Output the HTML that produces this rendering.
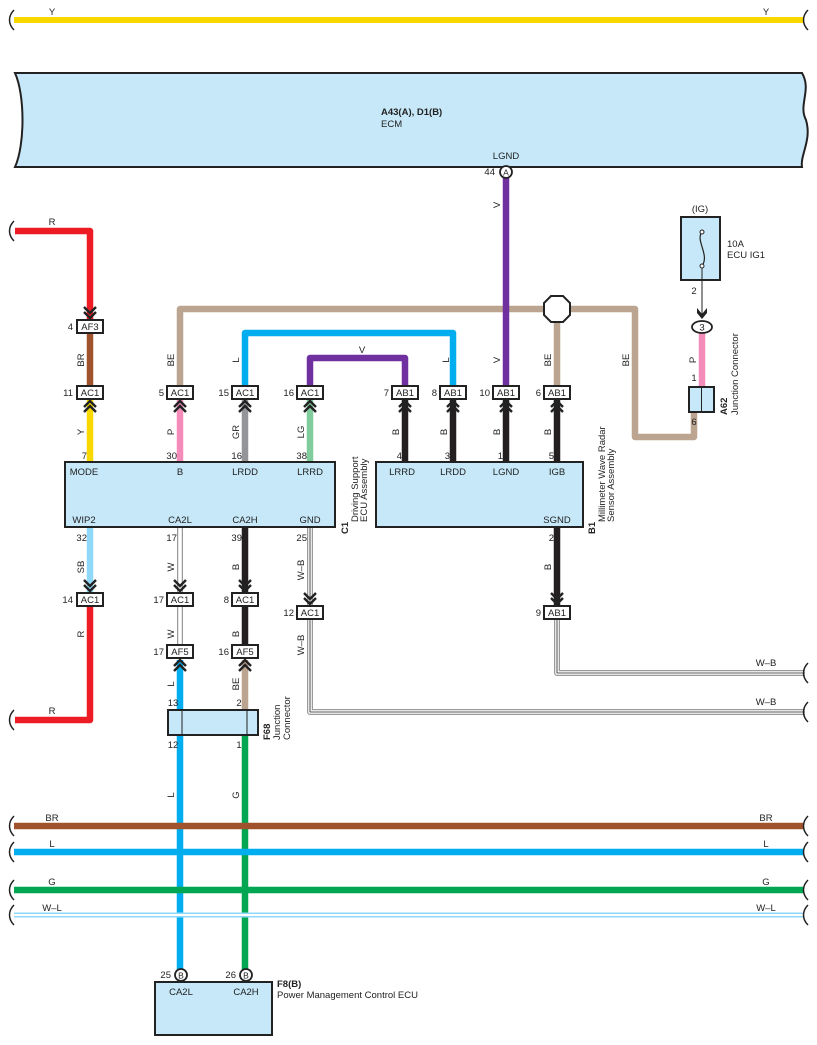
<!DOCTYPE html>
<html><head><meta charset="utf-8"><style>body{margin:0;background:#fff}svg{display:block}text{font-family:"Liberation Sans",sans-serif;font-size:9.5px;fill:#222}</style></head><body>
<svg width="817" height="1045" viewBox="0 0 817 1045" xmlns="http://www.w3.org/2000/svg">
<defs>
<g id="cu"><polyline points="-6,6 0,0 6,6" fill="none" stroke="#222" stroke-width="2.4"/><polyline points="-6,11 0,5 6,11" fill="none" stroke="#222" stroke-width="2.4"/></g>
<g id="cd"><polyline points="-6,-6 0,0 6,-6" fill="none" stroke="#222" stroke-width="2.4"/><polyline points="-6,-11 0,-5 6,-11" fill="none" stroke="#222" stroke-width="2.4"/></g>
<path id="brk" d="M0,-10 C-6,-4 -6,4 0,10" fill="none" stroke="#222" stroke-width="1.5"/>
</defs>
<line x1="14" y1="20" x2="804" y2="20" stroke="#f9d800" stroke-width="6"/>
<use href="#brk" x="14" y="20"/><use href="#brk" x="808" y="20"/>
<text x="52" y="15" text-anchor="middle">Y</text><text x="766" y="15" text-anchor="middle">Y</text>
<path d="M15,73 H802 C812,90 798,105 806,120 C812,140 800,155 802,167 H15 C25,145 25,95 15,73 Z" fill="#c6e8f8" stroke="#222" stroke-width="2"/>
<text x="381" y="115" style="font-weight:bold">A43(A), D1(B)</text>
<text x="381" y="127">ECM</text>
<text x="506" y="159" text-anchor="middle">LGND</text>
<g fill="none" stroke-linejoin="round">
<path d="M15,231 H90 V320" stroke="#ed1c24" stroke-width="6.5"/>
<path d="M90,334 V386" stroke="#a0522d" stroke-width="6.5"/>
<path d="M180,386 V309 H635 V437 H694 V412" stroke="#bba590" stroke-width="6.5"/>
<path d="M557,320 V386" stroke="#bba590" stroke-width="6.5"/>
<path d="M245,386 V333 H453 V386" stroke="#00aeef" stroke-width="6.5"/>
<path d="M310,386 V358 H405 V386" stroke="#7030a0" stroke-width="6.5"/>
<path d="M506,178 V386" stroke="#7030a0" stroke-width="6.5"/>
<path d="M90,400 V462" stroke="#f9d800" stroke-width="6.5"/>
<path d="M180,400 V462" stroke="#f48cba" stroke-width="6.5"/>
<path d="M245,400 V462" stroke="#939598" stroke-width="6.5"/>
<path d="M310,400 V462" stroke="#80cc9c" stroke-width="6.5"/>
<path d="M405,400 V462 M453,400 V462 M506,400 V462 M557,400 V462" stroke="#231f20" stroke-width="6.5"/>
<path d="M702,333 V387" stroke="#f48cba" stroke-width="6.5"/>
<path d="M90,527 V593" stroke="#8fd8f8" stroke-width="6.5"/>
<path d="M90,607 V720 H15" stroke="#ed1c24" stroke-width="6.5"/>
<path d="M180,527 V593 M180,607 V646" stroke="#999" stroke-width="6"/><path d="M180,527 V593 M180,607 V646" stroke="#fff" stroke-width="3.5"/>
<path d="M245,527 V593 M245,607 V646" stroke="#231f20" stroke-width="6.5"/>
<path d="M180,660 V975" stroke="#00aeef" stroke-width="6.5"/>
<path d="M245,660 V710" stroke="#bba590" stroke-width="6.5"/>
<path d="M245,735 V975" stroke="#00a651" stroke-width="6.5"/>
<path d="M310,527 V605 M310,619 V712 H805" stroke="#999" stroke-width="6"/><path d="M310,527 V605 M310,619 V712 H805" stroke="#fff" stroke-width="3.5"/><path d="M310,527 V605 M310,619 V712 H805" stroke="#222" stroke-width="0.8"/>
<path d="M557,527 V605" stroke="#231f20" stroke-width="6.5"/>
<path d="M557,619 V673 H805" stroke="#999" stroke-width="6"/><path d="M557,619 V673 H805" stroke="#fff" stroke-width="3.5"/><path d="M557,619 V673 H805" stroke="#222" stroke-width="0.8"/>
<line x1="14" y1="826" x2="804" y2="826" stroke="#a0522d" stroke-width="6.5"/>
<line x1="14" y1="852" x2="804" y2="852" stroke="#00aeef" stroke-width="6.5"/>
<line x1="14" y1="890" x2="804" y2="890" stroke="#00a651" stroke-width="6.5"/>
<line x1="14" y1="915" x2="804" y2="915" stroke="#8fd8f8" stroke-width="5"/><line x1="14" y1="915" x2="804" y2="915" stroke="#fff" stroke-width="2"/>
</g>
<use href="#brk" x="14" y="231"/><use href="#brk" x="14" y="720"/>
<use href="#brk" x="808" y="673"/><use href="#brk" x="808" y="712"/>
<use href="#brk" x="14" y="826"/><use href="#brk" x="808" y="826"/>
<use href="#brk" x="14" y="852"/><use href="#brk" x="808" y="852"/>
<use href="#brk" x="14" y="890"/><use href="#brk" x="808" y="890"/>
<use href="#brk" x="14" y="915"/><use href="#brk" x="808" y="915"/>
<text x="52" y="225" text-anchor="middle">R</text>
<text x="52" y="714" text-anchor="middle">R</text>
<text x="362" y="353" text-anchor="middle">V</text>
<text x="766" y="666" text-anchor="middle">W–B</text><text x="766" y="705" text-anchor="middle">W–B</text>
<text x="52" y="821" text-anchor="middle">BR</text><text x="766" y="821" text-anchor="middle">BR</text>
<text x="52" y="847" text-anchor="middle">L</text><text x="766" y="847" text-anchor="middle">L</text>
<text x="52" y="885" text-anchor="middle">G</text><text x="766" y="885" text-anchor="middle">G</text>
<text x="52" y="911" text-anchor="middle">W–L</text><text x="766" y="911" text-anchor="middle">W–L</text>
<g text-anchor="middle">
<text transform="translate(84,360) rotate(-90)">BR</text>
<text transform="translate(174,360) rotate(-90)">BE</text>
<text transform="translate(239,360) rotate(-90)">L</text>
<text transform="translate(449,360) rotate(-90)">L</text>
<text transform="translate(500,205) rotate(-90)">V</text>
<text transform="translate(500,360) rotate(-90)">V</text>
<text transform="translate(551,360) rotate(-90)">BE</text>
<text transform="translate(629,360) rotate(-90)">BE</text>
<text transform="translate(696,360) rotate(-90)">P</text>
<text transform="translate(84,432) rotate(-90)">Y</text>
<text transform="translate(174,432) rotate(-90)">P</text>
<text transform="translate(239,432) rotate(-90)">GR</text>
<text transform="translate(304,432) rotate(-90)">LG</text>
<text transform="translate(399,432) rotate(-90)">B</text>
<text transform="translate(447,432) rotate(-90)">B</text>
<text transform="translate(500,432) rotate(-90)">B</text>
<text transform="translate(551,432) rotate(-90)">B</text>
<text transform="translate(84,567) rotate(-90)">SB</text>
<text transform="translate(84,634) rotate(-90)">R</text>
<text transform="translate(174,567) rotate(-90)">W</text>
<text transform="translate(174,634) rotate(-90)">W</text>
<text transform="translate(239,567) rotate(-90)">B</text>
<text transform="translate(239,634) rotate(-90)">B</text>
<text transform="translate(174,684) rotate(-90)">L</text>
<text transform="translate(239,684) rotate(-90)">BE</text>
<text transform="translate(304,570) rotate(-90)">W–B</text>
<text transform="translate(304,645) rotate(-90)">W–B</text>
<text transform="translate(551,567) rotate(-90)">B</text>
<text transform="translate(174,795) rotate(-90)">L</text>
<text transform="translate(239,795) rotate(-90)">G</text>
</g>
<polygon points="551,296 563,296 570,303 570,315 563,322 551,322 544,315 544,303" fill="#fff" stroke="#222" stroke-width="2"/>
<circle cx="506" cy="172" r="6" fill="#fff" stroke="#222" stroke-width="1.8"/><text x="506" y="175.5" text-anchor="middle" style="font-size:8.5px">A</text>
<text x="495" y="175" text-anchor="end">44</text>
<text x="700" y="212" text-anchor="middle">(IG)</text>
<rect x="681" y="217" width="39" height="63" fill="#c6e8f8" stroke="#222" stroke-width="2"/>
<path d="M702,232 C695,240 710,255 702,266" fill="none" stroke="#222" stroke-width="1.2"/>
<circle cx="702" cy="232" r="2" fill="#fff" stroke="#222"/><circle cx="702" cy="266" r="2" fill="#fff" stroke="#222"/>
<text x="727" y="247">10A</text><text x="727" y="258">ECU IG1</text>
<text x="694" y="294" text-anchor="middle">2</text>
<line x1="702" y1="268" x2="702" y2="315" stroke="#222" stroke-width="1"/>
<polygon points="697,308 702,314 707,308 707,313 702,319 697,313" fill="#222"/>
<ellipse cx="702" cy="327" rx="10" ry="6" fill="#fff" stroke="#222" stroke-width="1.8"/><text x="702" y="330.5" text-anchor="middle">3</text>
<text x="694" y="381" text-anchor="middle">1</text>
<rect x="689" y="387" width="25" height="25" fill="#c6e8f8" stroke="#222" stroke-width="2"/><line x1="701.5" y1="387" x2="701.5" y2="412" stroke="#222"/>
<text x="694" y="425" text-anchor="middle">6</text>
<text transform="translate(727,415) rotate(-90)"><tspan style="font-weight:bold">A62</tspan></text>
<text transform="translate(738,415) rotate(-90)">Junction Connector</text>
<g font-size="10">
<g><rect x="77" y="320" width="26" height="13" fill="#fff" stroke="#222" stroke-width="2"/><text x="90" y="330" text-anchor="middle">AF3</text><text x="73" y="330" text-anchor="end">4</text></g>
<g><rect x="77" y="386" width="26" height="13" fill="#fff" stroke="#222" stroke-width="2"/><text x="90" y="396" text-anchor="middle">AC1</text><text x="73" y="396" text-anchor="end">11</text></g>
<g><rect x="167" y="386" width="26" height="13" fill="#fff" stroke="#222" stroke-width="2"/><text x="180" y="396" text-anchor="middle">AC1</text><text x="164" y="396" text-anchor="end">5</text></g>
<g><rect x="232" y="386" width="26" height="13" fill="#fff" stroke="#222" stroke-width="2"/><text x="245" y="396" text-anchor="middle">AC1</text><text x="229" y="396" text-anchor="end">15</text></g>
<g><rect x="297" y="386" width="26" height="13" fill="#fff" stroke="#222" stroke-width="2"/><text x="310" y="396" text-anchor="middle">AC1</text><text x="294" y="396" text-anchor="end">16</text></g>
<g><rect x="392" y="386" width="26" height="13" fill="#fff" stroke="#222" stroke-width="2"/><text x="405" y="396" text-anchor="middle">AB1</text><text x="389" y="396" text-anchor="end">7</text></g>
<g><rect x="440" y="386" width="26" height="13" fill="#fff" stroke="#222" stroke-width="2"/><text x="453" y="396" text-anchor="middle">AB1</text><text x="437" y="396" text-anchor="end">8</text></g>
<g><rect x="493" y="386" width="26" height="13" fill="#fff" stroke="#222" stroke-width="2"/><text x="506" y="396" text-anchor="middle">AB1</text><text x="490" y="396" text-anchor="end">10</text></g>
<g><rect x="544" y="386" width="26" height="13" fill="#fff" stroke="#222" stroke-width="2"/><text x="557" y="396" text-anchor="middle">AB1</text><text x="541" y="396" text-anchor="end">6</text></g>
<g><rect x="77" y="593" width="26" height="13" fill="#fff" stroke="#222" stroke-width="2"/><text x="90" y="603" text-anchor="middle">AC1</text><text x="73" y="603" text-anchor="end">14</text></g>
<g><rect x="167" y="593" width="26" height="13" fill="#fff" stroke="#222" stroke-width="2"/><text x="180" y="603" text-anchor="middle">AC1</text><text x="164" y="603" text-anchor="end">17</text></g>
<g><rect x="232" y="593" width="26" height="13" fill="#fff" stroke="#222" stroke-width="2"/><text x="245" y="603" text-anchor="middle">AC1</text><text x="229" y="603" text-anchor="end">8</text></g>
<g><rect x="297" y="606" width="26" height="13" fill="#fff" stroke="#222" stroke-width="2"/><text x="310" y="616" text-anchor="middle">AC1</text><text x="294" y="616" text-anchor="end">12</text></g>
<g><rect x="544" y="606" width="26" height="13" fill="#fff" stroke="#222" stroke-width="2"/><text x="557" y="616" text-anchor="middle">AB1</text><text x="541" y="616" text-anchor="end">9</text></g>
<g><rect x="167" y="645" width="26" height="13" fill="#fff" stroke="#222" stroke-width="2"/><text x="180" y="655" text-anchor="middle">AF5</text><text x="164" y="655" text-anchor="end">17</text></g>
<g><rect x="232" y="645" width="26" height="13" fill="#fff" stroke="#222" stroke-width="2"/><text x="245" y="655" text-anchor="middle">AF5</text><text x="229" y="655" text-anchor="end">16</text></g>
</g>
<use href="#cd" x="90" y="318"/>
<use href="#cu" x="90" y="401"/><use href="#cu" x="180" y="401"/><use href="#cu" x="245" y="401"/><use href="#cu" x="310" y="401"/>
<use href="#cu" x="405" y="401"/><use href="#cu" x="453" y="401"/><use href="#cu" x="506" y="401"/><use href="#cu" x="557" y="401"/>
<use href="#cd" x="90" y="591"/><use href="#cd" x="180" y="591"/><use href="#cd" x="245" y="591"/><use href="#cd" x="310" y="604"/><use href="#cd" x="557" y="604"/>
<use href="#cu" x="180" y="660"/><use href="#cu" x="245" y="660"/>
<rect x="65" y="462" width="270" height="65" fill="#c6e8f8" stroke="#222" stroke-width="2"/>
<g text-anchor="end">
<text x="87" y="459">7</text><text x="177" y="459">30</text><text x="242" y="459">16</text><text x="307" y="459">38</text>
<text x="87" y="541">32</text><text x="177" y="541">17</text><text x="242" y="541">39</text><text x="307" y="541">25</text>
<text x="402" y="459">4</text><text x="450" y="459">3</text><text x="503" y="459">1</text><text x="554" y="459">5</text>
<text x="554" y="541">2</text>
</g>
<g text-anchor="middle">
<text x="84" y="475">MODE</text><text x="180" y="475">B</text><text x="245" y="475">LRDD</text><text x="310" y="475">LRRD</text>
<text x="84" y="523">WIP2</text><text x="180" y="523">CA2L</text><text x="245" y="523">CA2H</text><text x="310" y="523">GND</text>
</g>
<text transform="translate(348,534) rotate(-90)" style="font-weight:bold">C1</text>
<text transform="translate(358,522) rotate(-90)">Driving Support</text>
<text transform="translate(367,522) rotate(-90)">ECU Assembly</text>
<rect x="376" y="462" width="207" height="65" fill="#c6e8f8" stroke="#222" stroke-width="2"/>
<g text-anchor="middle">
<text x="402" y="475">LRRD</text><text x="453" y="475">LRDD</text><text x="506" y="475">LGND</text><text x="557" y="475">IGB</text>
<text x="557" y="523">SGND</text>
</g>
<text transform="translate(595,534) rotate(-90)" style="font-weight:bold">B1</text>
<text transform="translate(605,522) rotate(-90)">Millimeter Wave Radar</text>
<text transform="translate(614,522) rotate(-90)">Sensor Assembly</text>
<text x="173" y="706" text-anchor="middle">13</text><text x="239" y="706" text-anchor="middle">2</text>
<rect x="168" y="710" width="90" height="25" fill="#c6e8f8" stroke="#222" stroke-width="2"/>
<line x1="182" y1="710" x2="182" y2="735" stroke="#222"/><line x1="247" y1="710" x2="247" y2="735" stroke="#222"/>
<text x="173" y="748" text-anchor="middle">12</text><text x="239" y="748" text-anchor="middle">1</text>
<text transform="translate(270,740) rotate(-90)" style="font-weight:bold">F68</text>
<text transform="translate(280,740) rotate(-90)">Junction</text>
<text transform="translate(290,740) rotate(-90)">Connector</text>
<rect x="155" y="982" width="117" height="53" fill="#c6e8f8" stroke="#222" stroke-width="2"/>
<circle cx="181" cy="975" r="6" fill="#fff" stroke="#222" stroke-width="1.8"/><text x="181" y="978.5" text-anchor="middle" style="font-size:8.5px">B</text>
<circle cx="246" cy="975" r="6" fill="#fff" stroke="#222" stroke-width="1.8"/><text x="246" y="978.5" text-anchor="middle" style="font-size:8.5px">B</text>
<text x="171" y="978" text-anchor="end">25</text><text x="236" y="978" text-anchor="end">26</text>
<text x="181" y="995" text-anchor="middle">CA2L</text><text x="246" y="995" text-anchor="middle">CA2H</text>
<text x="277" y="987" style="font-weight:bold">F8(B)</text>
<text x="277" y="998">Power Management Control ECU</text>
</svg>
</body></html>
